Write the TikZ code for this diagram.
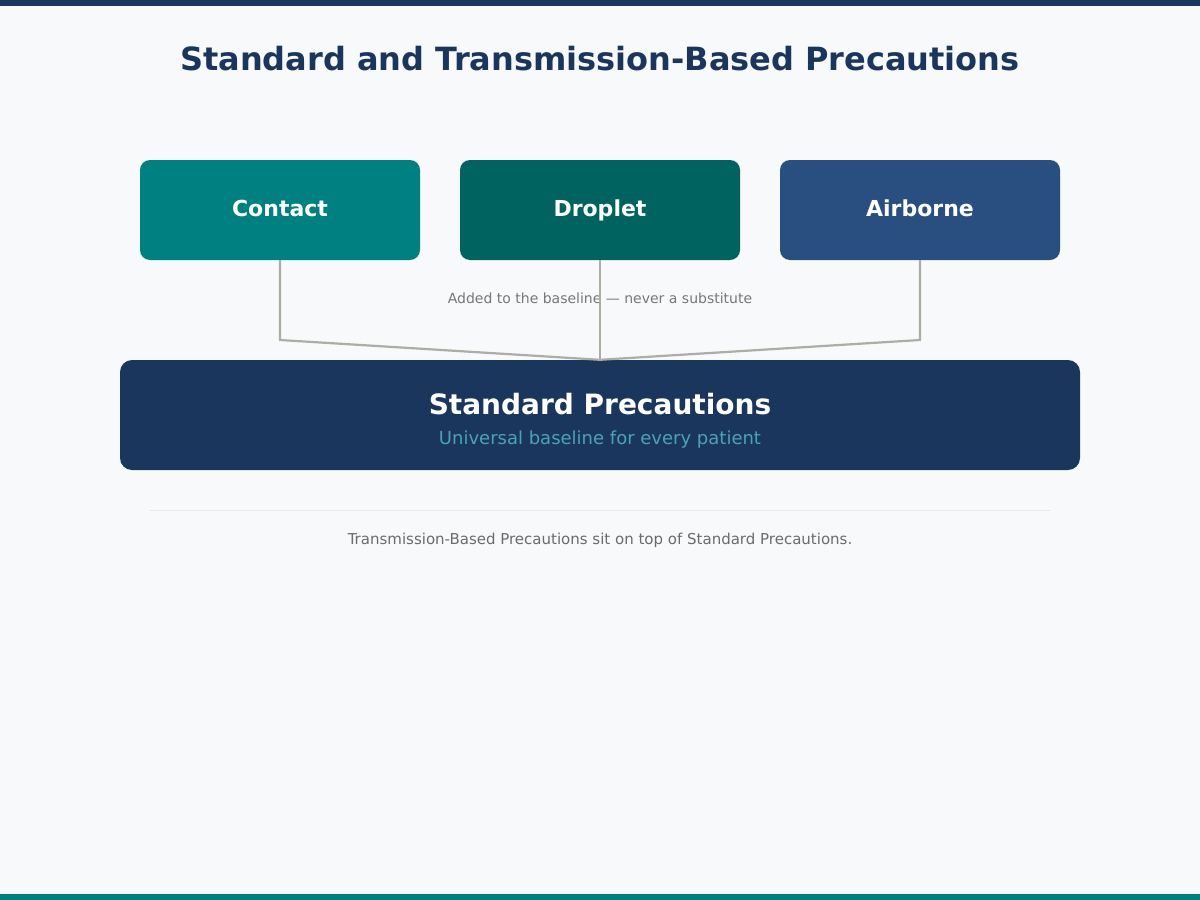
\documentclass[tikz,border=0pt]{standalone}
\usepackage{fontspec}
\setmainfont{DejaVu Sans}
\definecolor{bg}{HTML}{F7F9FB}
\definecolor{navy}{HTML}{1B365D}
\definecolor{tealA}{HTML}{008080}
\definecolor{tealB}{HTML}{00635F}
\definecolor{blueC}{HTML}{284F80}
\definecolor{conn}{HTML}{ADADA5}
\definecolor{subt}{HTML}{4AA3B5}
\definecolor{greytxt}{HTML}{777777}
\definecolor{foottxt}{HTML}{6B6B6B}
\definecolor{sepline}{HTML}{E3E6EA}
\tikzset{
  tbox/.style={rounded corners=10pt, minimum width=280pt, minimum height=100pt, inner sep=0pt},
  boxlabel/.style={anchor=base, inner sep=0pt, text=white, font=\fontsize{22}{26}\selectfont\bfseries},
  connector/.style={draw=conn, line width=2.2pt},
}
\begin{document}
\begin{tikzpicture}[x=1pt,y=-1pt]
\useasboundingbox (0,0) rectangle (1200,900);
\fill[bg] (0,0) rectangle (1200,900);
\fill[navy] (0,0) rectangle (1200,6);
\fill[tealA] (0,894) rectangle (1200,900);
\node[anchor=base, inner sep=0pt, text=navy, font=\fontsize{32}{38}\selectfont\bfseries] (title) at (600,70.5) {Standard and Transmission-Based Precautions};
\node[tbox, fill=tealA] (contact) at (280,210) {};
\node[tbox, fill=tealB] (droplet) at (600,210) {};
\node[tbox, fill=blueC] (airborne) at (920,210) {};
\node[boxlabel] (contactt) at (280,216) {Contact};
\node[boxlabel] (droplett) at (600,216) {Droplet};
\node[boxlabel] (airbornet) at (920,216) {Airborne};
\node[rounded corners=12pt, fill=navy, minimum width=960pt, minimum height=110pt, inner sep=0pt] (std) at (600,415) {};
\node[anchor=base, inner sep=0pt, text=white, font=\fontsize{28}{33}\selectfont\bfseries] (stdt) at (600,414) {Standard Precautions};
\node[anchor=base, inner sep=0pt, text=subt, font=\fontsize{18}{22}\selectfont] (stds) at (600,444.5) {Universal baseline for every patient};
\node[anchor=base, inner sep=0pt, text=greytxt, font=\fontsize{14}{17}\selectfont] (note) at (600,303) {Added to the baseline — never a substitute};
\coordinate (cl) at (280,340);
\coordinate (cr) at (920,340);
\draw[connector] (contact.south) -- (cl) -- (std.north);
\draw[connector] (droplet.south) -- (std.north);
\draw[connector] (airborne.south) -- (cr) -- (std.north);
\coordinate (s1) at (150,510.5);
\coordinate (s2) at (1050,510.5);
\draw[sepline, line width=1pt] (s1) -- (s2);
\node[anchor=base, inner sep=0pt, text=foottxt, font=\fontsize{15}{18}\selectfont] (foot) at (600,544) {Transmission-Based Precautions sit on top of Standard Precautions.};
\end{tikzpicture}
\end{document}
